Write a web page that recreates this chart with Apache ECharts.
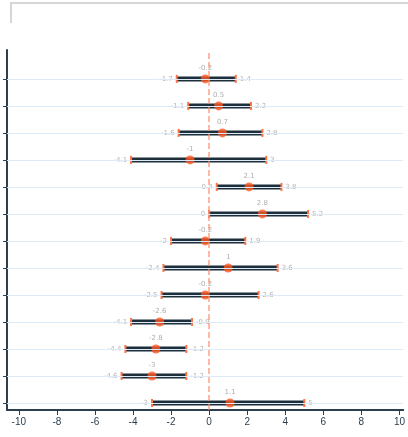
<!DOCTYPE html>
<html>
<head>
<meta charset="utf-8">
<script src="https://cdn.jsdelivr.net/npm/echarts@6/dist/echarts.min.js"></script>
<style>html,body{margin:0;padding:0;background:#fff}#c{width:408px;height:437px}</style>
</head>
<body>
<div id="c"></div>
<script>
const rows = [13, 12, 11, 10, 9, 8, 7, 6, 5, 4, 3, 2, 1];
const estimate = [-0.2, 0.5, 0.7, -1.0, 2.1, 2.8, -0.2, 1.0, -0.2, -2.6, -2.8, -3.0, 1.1];
const lower = [-1.7, -1.1, -1.6, -4.1, 0.4, 0.0, -2.0, -2.4, -2.5, -4.1, -4.4, -4.6, -3.0];
const upper = [1.4, 2.2, 2.8, 3.0, 3.8, 5.2, 1.9, 3.6, 2.6, -0.9, -1.2, -1.2, 5.0];
const xTicks = [-10, -8, -6, -4, -2, 0, 2, 4, 6, 8, 10];

const fmt = v => String(Number(v.toFixed(1)));
const axisColor = '#2b3f4f';

const chart = echarts.init(document.getElementById('c'));
chart.setOption({
  animation: false,
  graphic: [{
    type: 'polyline',
    shape: { points: [[11, 23], [11, 3], [412, 3]] },
    style: { stroke: '#d6d6d6', lineWidth: 2, fill: null }
  }],
  grid: { left: 7, right: 0, top: 50, bottom: 27 },
  xAxis: {
    type: 'value', min: -10.62, max: 10.2,
    axisLine: { show: true, onZero: false, lineStyle: { color: axisColor, width: 2 } },
    axisTick: { show: true, customValues: xTicks, length: 5, lineStyle: { color: axisColor } },
    axisLabel: { customValues: xTicks, color: axisColor, fontSize: 10, margin: 7 },
    splitLine: { show: false }
  },
  yAxis: {
    type: 'value', min: 0.74, max: 14.07,
    axisLine: { show: true, onZero: false, lineStyle: { color: axisColor, width: 2 } },
    axisTick: { show: true, customValues: rows, length: 4, lineStyle: { color: axisColor } },
    axisLabel: { show: false },
    splitLine: { show: false }
  },
  series: [
    {
      type: 'custom',
      data: rows.map((r, i) => [r, lower[i], upper[i]]),
      encode: { x: [1, 2], y: 0 },
      renderItem: function (params, api) {
        const y = api.value(0);
        const lo = api.coord([api.value(1), y]);
        const hi = api.coord([api.value(2), y]);
        return {
          type: 'group',
          children: [
            { type: 'line', shape: { x1: lo[0], y1: lo[1], x2: hi[0], y2: hi[1] }, style: { stroke: '#1e2f3c', lineWidth: 5 } },
            { type: 'line', shape: { x1: lo[0], y1: lo[1] - 4, x2: lo[0], y2: lo[1] + 4 }, style: { stroke: '#ff7043', lineWidth: 2 } },
            { type: 'line', shape: { x1: hi[0], y1: hi[1] - 4, x2: hi[0], y2: hi[1] + 4 }, style: { stroke: '#ff7043', lineWidth: 2 } },
            { type: 'text', x: lo[0] - 4, y: lo[1], style: { text: fmt(api.value(1)), align: 'right', verticalAlign: 'middle', fill: '#b5b5b5', fontSize: 7, fontFamily: 'DejaVu Sans' } },
            { type: 'text', x: hi[0] + 4, y: hi[1], style: { text: fmt(api.value(2)), align: 'left', verticalAlign: 'middle', fill: '#b5b5b5', fontSize: 7, fontFamily: 'DejaVu Sans' } }
          ]
        };
      },
      markLine: {
        silent: true, symbol: 'none', label: { show: false },
        data: rows.map(r => ({ yAxis: r, lineStyle: { color: '#dcebf7', width: 1, type: 'solid' } }))
          .concat([{ xAxis: 0, lineStyle: { color: '#ff8a65', width: 1.5, type: 'dashed', opacity: 0.8 } }])
      },
      z: 3
    },
    {
      type: 'scatter',
      data: rows.map((r, i) => [estimate[i], r]),
      symbolSize: 9,
      itemStyle: { color: '#ff5722' },
      label: {
        show: true, position: 'top', distance: 3,
        formatter: p => fmt(p.value[0]),
        color: '#9a9a9a', fontSize: 7, fontFamily: 'DejaVu Sans'
      },
      z: 4
    }
  ]
});
</script>
</body>
</html>
